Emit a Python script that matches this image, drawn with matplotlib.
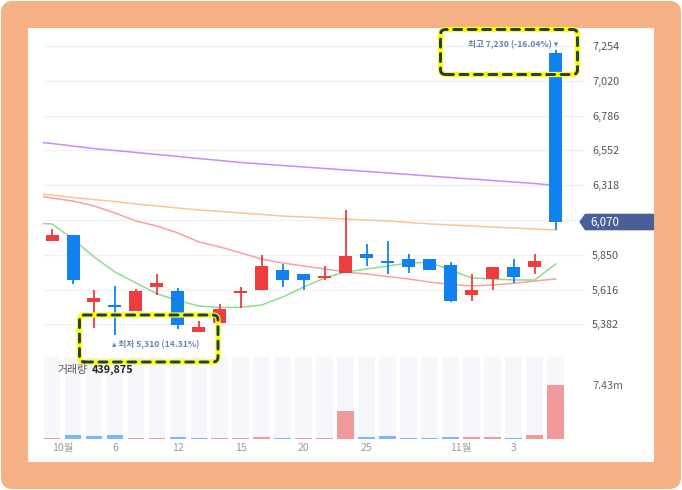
import numpy as np
import matplotlib
matplotlib.use('Agg')
import matplotlib.pyplot as plt
from matplotlib.patches import FancyBboxPatch, Rectangle, Polygon
from matplotlib.transforms import IdentityTransform

plt.rcParams['font.family'] = ['Noto Sans CJK KR', 'DejaVu Sans']
plt.rcParams['lines.scale_dashes'] = False

# daily candles
opens  = [5940, 5980, 5530, 5515, 5470, 5630, 5605, 5330, 5390, 5590, 5615, 5745, 5720,
          5695, 5725, 5855, 5808, 5820, 5820, 5780, 5580, 5690, 5765, 5765, 7210]
highs  = [6020, 5980, 5610, 5640, 5620, 5720, 5625, 5405, 5520, 5635, 5850, 5785, 5720,
          5775, 6150, 5920, 5940, 5855, 5820, 5800, 5720, 5765, 5820, 5855, 7230]
lows   = [5940, 5650, 5360, 5310, 5470, 5580, 5350, 5330, 5390, 5490, 5615, 5630, 5615,
          5680, 5725, 5775, 5720, 5730, 5745, 5530, 5540, 5610, 5660, 5720, 6015]
closes = [5980, 5680, 5560, 5495, 5605, 5660, 5380, 5365, 5485, 5605, 5775, 5680, 5680,
          5710, 5840, 5830, 5795, 5770, 5745, 5540, 5615, 5765, 5700, 5805, 6070]

# volume (millions) and its colour flag (True = red)
volumes = [0.14, 0.55, 0.41, 0.55, 0.14, 0.14, 0.27, 0.14, 0.14, 0.14, 0.27, 0.14, 0.14,
           0.14, 3.83, 0.27, 0.41, 0.14, 0.14, 0.27, 0.27, 0.27, 0.14, 0.55, 7.43]
vol_up = [1, 0, 0, 0, 1, 1, 0, 0, 1, 1, 1, 0, 1, 1, 1, 0, 0, 0, 0, 0, 1, 1, 0, 1, 1]

# moving averages, first value is the day before the window
ma5 = [6063, 6057, 5956, 5835, 5734, 5660, 5588, 5541, 5505, 5495, 5496, 5512, 5566,
       5633, 5694, 5734, 5754, 5774, 5795, 5798, 5747, 5694, 5687, 5680, 5680, 5788]
ma20 = [6258, 6231, 6211, 6178, 6131, 6077, 6043, 5996, 5936, 5902, 5862, 5821, 5794,
        5774, 5754, 5734, 5720, 5703, 5687, 5666, 5650, 5640, 5646, 5658, 5673, 5687]
ma60 = [6265, 6252, 6235, 6221, 6208, 6191, 6178, 6164, 6151, 6141, 6131, 6121, 6110,
        6104, 6097, 6090, 6083, 6077, 6067, 6057, 6050, 6043, 6036, 6030, 6023, 6016]
ma120 = [6612, 6598, 6581, 6564, 6551, 6538, 6524, 6511, 6497, 6484, 6470, 6460, 6450,
         6440, 6430, 6420, 6410, 6400, 6390, 6379, 6369, 6359, 6349, 6339, 6329, 6316]

price_ticks = [5382, 5616, 5850, 6084, 6318, 6552, 6786, 7020, 7254]
xtick_pos = [0.5, 3, 6, 9, 12, 15, 19.5, 22]
xtick_labels = ['10월', '6', '12', '15', '20', '25', '11월', '3']

RED, BLUE = '#ee3d3d', '#1181ef'
RED_V, BLUE_V = '#f2999b', '#7ab8f5'
NOTE = '#6c7fb8'

W, H = 682, 490
fig = plt.figure(figsize=(W / 100, H / 100), dpi=100)
fig.patch.set_facecolor('white')


def box(x0, y0, x1, y1):
    # pixel box (top-left origin) -> figure fraction rect
    return [x0 / W, 1 - y1 / H, (x1 - x0) / W, (y1 - y0) / H]


# frame
fig.add_artist(FancyBboxPatch((1, 1), 680, 488, boxstyle='round,pad=0,rounding_size=12',
                              fc='#f4b183', ec='none', transform=IdentityTransform(), zorder=-10))
fig.add_artist(Rectangle((28, H - 462), 626, 434, fc='white', ec='none',
                         transform=IdentityTransform(), zorder=-9))

x = np.arange(len(closes))
xm = np.arange(-1, len(closes))

# price panel
ax = fig.add_axes(box(43, 28, 585, 357))
ax.set_facecolor('none')
ax.set_xlim(-0.43, 25.4)
ax.set_ylim(5162, 7375)
for s in ax.spines.values():
    s.set_visible(False)
ax.yaxis.tick_right()
ax.set_yticks(price_ticks)
ax.set_yticklabels(['' if t == 6084 else f'{t:,}' for t in price_ticks])
ax.tick_params(axis='y', length=0, pad=5, labelsize=7.8, labelcolor='#555555')
ax.set_xticks([])
for t in price_ticks:
    ax.axhline(t, color='#f0f1f5', lw=1, zorder=0)

ax.plot(xm, ma120, color='#c58df7', lw=1.1, zorder=2)
ax.plot(xm, ma60, color='#fcc594', lw=1.1, zorder=2)
ax.plot(xm, ma20, color='#f7a1a1', lw=1.1, zorder=2)
ax.plot(xm, ma5, color='#8edc8e', lw=1.1, zorder=2)

cols = [RED if c >= o else BLUE for o, c in zip(opens, closes)]
ax.vlines(x, lows, highs, colors=cols, lw=1.3, zorder=3)
bottoms = np.minimum(opens, closes)
heights = np.maximum(np.abs(np.array(closes) - np.array(opens)), 12)
ax.bar(x, heights, bottom=bottoms, width=0.62, color=cols, zorder=4)

# high / low notes
hi = int(np.argmax(highs))
lo = int(np.argmin(lows))
last = closes[-1]
ax.annotate(f'최고 {highs[hi]:,} ({(last - highs[hi]) / highs[hi] * 100:.2f}%) ▾',
            xy=(hi, highs[hi]), xytext=(3, 5), textcoords='offset pixels',
            ha='right', va='center', fontsize=6.2, color=NOTE, fontweight='bold')
ax.annotate(f'▴ 최저 {lows[lo]:,} ({(last - lows[lo]) / lows[lo] * 100:.2f}%)',
            xy=(lo, lows[lo]), xytext=(-3, -10), textcoords='offset pixels',
            ha='left', va='center', fontsize=6.2, color=NOTE, fontweight='bold')

# volume panel
axv = fig.add_axes(box(43, 357.3, 585, 439))
axv.set_facecolor('none')
axv.set_xlim(-0.43, 25.4)
vtop = max(volumes) * 81.7 / 54.3
axv.set_ylim(0, vtop)
for s in axv.spines.values():
    s.set_visible(False)
axv.bar(x, [vtop] * len(x), width=0.8, color='#f6f7fb', zorder=0)
axv.bar(x, volumes, width=0.8, color=[RED_V if u else BLUE_V for u in vol_up], zorder=2)
axv.yaxis.tick_right()
axv.set_yticks([max(volumes)])
axv.set_yticklabels([f'{max(volumes):.2f}m'])
axv.tick_params(axis='y', length=0, pad=5, labelsize=7.8, labelcolor='#666666')
axv.set_xticks(xtick_pos)
axv.set_xticklabels(xtick_labels)
axv.tick_params(axis='x', length=0, pad=3, labelsize=7.6, labelcolor='#9a9a9a')

fig.text(57 / W, 1 - 370 / H, '거래량', fontsize=7.8, color='#555555', va='center')
fig.text(92 / W, 1 - 370 / H, f'{439875:,}', fontsize=7.8, color='#222222',
         va='center', fontweight='bold')

# current price tag
fig.canvas.draw()
yd = ax.transData.transform((0, last))[1]
fig.add_artist(Polygon([(579.3, yd), (585, yd + 8.3), (654, yd + 8.3), (654, yd - 8.3),
                        (585, yd - 8.3)], closed=True, fc='#4a5f98', ec='none',
                       transform=IdentityTransform(), zorder=5))
fig.text(590 / W, yd / H, f'{last:,}', color='white', fontsize=8.3, va='center', zorder=6)

# highlight boxes
for (x0, y0, x1, y1) in [(440.5, 29.5, 577.5, 74.5), (79.5, 315, 218, 362)]:
    for ec, lw, ls in [('#ffff00', 3.8, 'solid'), ('#1f3a5f', 2.1, (0, (5.8, 4.6)))]:
        p = FancyBboxPatch((x0, H - y1), x1 - x0, y1 - y0,
                           boxstyle='round,pad=0,rounding_size=5', fc='none', ec=ec,
                           lw=lw, ls=ls, transform=IdentityTransform(), zorder=8)
        p.set_capstyle('round')
        fig.add_artist(p)

fig.savefig('out.png', dpi=100)
